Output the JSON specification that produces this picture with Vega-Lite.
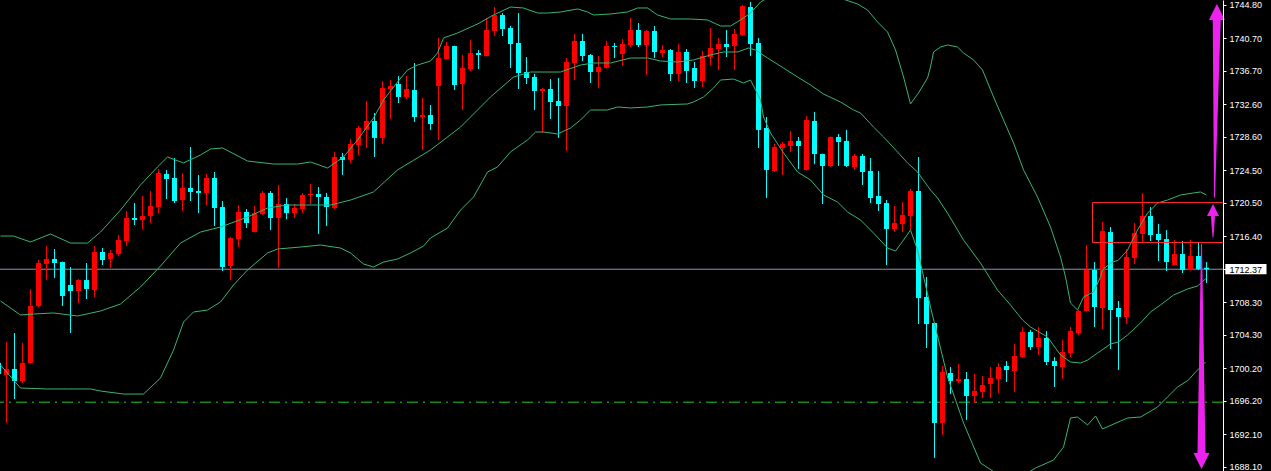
{
"$schema":"https://vega.github.io/schema/vega-lite/v6.json",
"width":1223,"height":471,"padding":{"left":0,"top":0,"bottom":0,"right":48},"autosize":{"type":"none"},
"background":"#000000",
"config":{"view":{"stroke":null},"axis":{"labelOverlap":false}},
"resolve":{"scale":{"size":"independent"},"axis":{"x":"independent","y":"independent"}},
"datasets":{
"candles":[
{"k":-1,"o":1700.86,"h":1701.47,"l":1699.02,"c":1699.51},
{"k":0,"o":1699.39,"h":1703.44,"l":1693.50,"c":1700.12},
{"k":1,"o":1700.12,"h":1704.54,"l":1696.44,"c":1698.65},
{"k":2,"o":1698.65,"h":1703.31,"l":1698.40,"c":1700.86},
{"k":3,"o":1700.86,"h":1709.94,"l":1700.80,"c":1707.85},
{"k":4,"o":1707.85,"h":1713.50,"l":1707.73,"c":1713.13},
{"k":5,"o":1713.01,"h":1715.21,"l":1711.04,"c":1713.62},
{"k":6,"o":1713.62,"h":1714.85,"l":1711.29,"c":1713.13},
{"k":7,"o":1713.25,"h":1713.30,"l":1707.85,"c":1709.08},
{"k":8,"o":1710.43,"h":1712.64,"l":1704.54,"c":1709.69},
{"k":9,"o":1709.69,"h":1711.16,"l":1708.22,"c":1711.04},
{"k":10,"o":1711.04,"h":1713.13,"l":1708.71,"c":1709.94},
{"k":11,"o":1709.81,"h":1715.21,"l":1708.96,"c":1714.48},
{"k":12,"o":1714.48,"h":1714.97,"l":1712.88,"c":1713.50},
{"k":13,"o":1713.62,"h":1714.72,"l":1712.51,"c":1714.36},
{"k":14,"o":1714.23,"h":1716.56,"l":1713.99,"c":1715.95},
{"k":15,"o":1715.83,"h":1719.51,"l":1715.21,"c":1718.65},
{"k":16,"o":1718.65,"h":1720.49,"l":1717.79,"c":1718.41},
{"k":17,"o":1718.41,"h":1721.36,"l":1717.30,"c":1718.90},
{"k":18,"o":1718.90,"h":1721.97,"l":1718.04,"c":1720.12},
{"k":19,"o":1720.00,"h":1724.67,"l":1719.26,"c":1724.18},
{"k":20,"o":1724.06,"h":1724.55,"l":1720.99,"c":1723.44},
{"k":21,"o":1723.57,"h":1726.02,"l":1720.49,"c":1720.74},
{"k":22,"o":1720.86,"h":1724.18,"l":1719.51,"c":1722.34},
{"k":23,"o":1722.34,"h":1727.37,"l":1720.74,"c":1721.85},
{"k":24,"o":1721.97,"h":1723.94,"l":1719.26,"c":1721.73},
{"k":25,"o":1721.73,"h":1724.06,"l":1720.25,"c":1723.57},
{"k":26,"o":1723.57,"h":1724.30,"l":1717.67,"c":1719.88},
{"k":27,"o":1720.00,"h":1720.74,"l":1712.15,"c":1712.64},
{"k":28,"o":1712.76,"h":1716.32,"l":1711.04,"c":1716.20},
{"k":29,"o":1716.07,"h":1720.25,"l":1715.09,"c":1719.39},
{"k":30,"o":1719.39,"h":1719.76,"l":1717.42,"c":1718.04},
{"k":31,"o":1716.93,"h":1720.12,"l":1716.90,"c":1719.26},
{"k":32,"o":1719.14,"h":1721.97,"l":1719.02,"c":1721.73},
{"k":33,"o":1721.73,"h":1721.97,"l":1717.18,"c":1718.65},
{"k":34,"o":1718.65,"h":1722.71,"l":1712.51,"c":1720.37},
{"k":35,"o":1720.37,"h":1721.11,"l":1718.50,"c":1719.26},
{"k":36,"o":1719.26,"h":1720.37,"l":1718.65,"c":1719.88},
{"k":37,"o":1719.76,"h":1721.73,"l":1719.26,"c":1721.48},
{"k":38,"o":1721.48,"h":1722.84,"l":1720.37,"c":1721.60},
{"k":39,"o":1721.60,"h":1722.46,"l":1716.69,"c":1721.23},
{"k":40,"o":1721.23,"h":1721.73,"l":1717.67,"c":1720.00},
{"k":41,"o":1719.88,"h":1726.76,"l":1719.76,"c":1726.14},
{"k":42,"o":1726.14,"h":1726.64,"l":1723.94,"c":1725.78},
{"k":43,"o":1725.78,"h":1728.35,"l":1725.41,"c":1727.74},
{"k":44,"o":1727.62,"h":1729.95,"l":1726.39,"c":1729.70},
{"k":45,"o":1729.46,"h":1733.02,"l":1727.25,"c":1730.56},
{"k":46,"o":1730.56,"h":1731.54,"l":1726.14,"c":1728.48},
{"k":47,"o":1728.48,"h":1735.47,"l":1727.74,"c":1734.61},
{"k":48,"o":1734.49,"h":1735.59,"l":1730.81,"c":1734.86},
{"k":49,"o":1735.10,"h":1736.08,"l":1732.77,"c":1733.51},
{"k":50,"o":1733.51,"h":1736.08,"l":1733.26,"c":1734.49},
{"k":51,"o":1734.36,"h":1737.68,"l":1730.44,"c":1731.05},
{"k":52,"o":1731.05,"h":1733.38,"l":1727.00,"c":1731.30},
{"k":53,"o":1731.30,"h":1732.53,"l":1729.46,"c":1730.19},
{"k":54,"o":1734.86,"h":1740.75,"l":1728.23,"c":1738.29},
{"k":55,"o":1738.17,"h":1740.26,"l":1738.10,"c":1739.76},
{"k":56,"o":1739.76,"h":1739.80,"l":1734.36,"c":1734.98},
{"k":57,"o":1735.10,"h":1738.66,"l":1731.91,"c":1737.06},
{"k":58,"o":1736.94,"h":1740.50,"l":1736.70,"c":1738.91},
{"k":59,"o":1738.91,"h":1739.27,"l":1736.94,"c":1738.66},
{"k":60,"o":1738.54,"h":1743.20,"l":1738.50,"c":1741.73},
{"k":61,"o":1741.61,"h":1744.55,"l":1740.99,"c":1743.57},
{"k":62,"o":1743.57,"h":1743.81,"l":1740.99,"c":1741.85},
{"k":63,"o":1741.97,"h":1742.22,"l":1737.06,"c":1740.01},
{"k":64,"o":1740.13,"h":1743.81,"l":1734.49,"c":1736.45},
{"k":65,"o":1736.57,"h":1738.41,"l":1735.10,"c":1735.84},
{"k":66,"o":1735.96,"h":1736.33,"l":1731.91,"c":1734.24},
{"k":67,"o":1734.24,"h":1734.61,"l":1729.09,"c":1734.49},
{"k":68,"o":1734.49,"h":1735.71,"l":1730.81,"c":1732.89},
{"k":69,"o":1733.02,"h":1735.84,"l":1728.48,"c":1732.40},
{"k":70,"o":1732.40,"h":1738.29,"l":1726.88,"c":1737.80},
{"k":71,"o":1737.68,"h":1741.24,"l":1735.59,"c":1740.38},
{"k":72,"o":1740.38,"h":1741.24,"l":1737.92,"c":1738.54},
{"k":73,"o":1738.66,"h":1738.78,"l":1735.22,"c":1736.57},
{"k":74,"o":1736.57,"h":1738.54,"l":1734.61,"c":1737.19},
{"k":75,"o":1737.06,"h":1740.38,"l":1737.00,"c":1739.76},
{"k":76,"o":1739.76,"h":1740.13,"l":1738.29,"c":1739.64},
{"k":77,"o":1738.78,"h":1740.62,"l":1737.31,"c":1740.01},
{"k":78,"o":1739.89,"h":1743.20,"l":1739.64,"c":1741.73},
{"k":79,"o":1741.73,"h":1742.59,"l":1739.64,"c":1739.89},
{"k":80,"o":1739.89,"h":1741.73,"l":1736.21,"c":1741.61},
{"k":81,"o":1741.61,"h":1742.22,"l":1738.29,"c":1739.03},
{"k":82,"o":1738.91,"h":1739.89,"l":1738.41,"c":1739.27},
{"k":83,"o":1739.27,"h":1739.40,"l":1735.47,"c":1736.33},
{"k":84,"o":1736.33,"h":1740.01,"l":1735.47,"c":1739.03},
{"k":85,"o":1739.03,"h":1739.40,"l":1735.22,"c":1736.70},
{"k":86,"o":1737.06,"h":1737.80,"l":1734.61,"c":1735.47},
{"k":87,"o":1735.47,"h":1739.15,"l":1734.73,"c":1738.54},
{"k":88,"o":1738.41,"h":1741.97,"l":1737.43,"c":1739.52},
{"k":89,"o":1739.40,"h":1740.75,"l":1736.82,"c":1740.01},
{"k":90,"o":1740.01,"h":1741.73,"l":1738.41,"c":1739.64},
{"k":91,"o":1739.76,"h":1741.85,"l":1736.82,"c":1741.24},
{"k":92,"o":1741.11,"h":1744.80,"l":1740.99,"c":1744.67},
{"k":93,"o":1744.55,"h":1745.16,"l":1738.54,"c":1740.01},
{"k":94,"o":1740.13,"h":1740.75,"l":1727.25,"c":1729.46},
{"k":95,"o":1729.70,"h":1731.05,"l":1721.11,"c":1724.55},
{"k":96,"o":1724.43,"h":1727.74,"l":1724.30,"c":1727.37},
{"k":97,"o":1727.25,"h":1727.98,"l":1723.94,"c":1727.74},
{"k":98,"o":1727.49,"h":1729.34,"l":1726.76,"c":1728.11},
{"k":99,"o":1728.11,"h":1728.60,"l":1724.67,"c":1727.49},
{"k":100,"o":1724.55,"h":1731.17,"l":1724.50,"c":1730.68},
{"k":101,"o":1730.56,"h":1731.66,"l":1725.26,"c":1726.51},
{"k":102,"o":1726.51,"h":1726.55,"l":1720.37,"c":1725.04},
{"k":103,"o":1725.04,"h":1728.65,"l":1724.92,"c":1728.60},
{"k":104,"o":1728.60,"h":1728.97,"l":1725.04,"c":1727.98},
{"k":105,"o":1728.11,"h":1729.46,"l":1724.92,"c":1725.04},
{"k":106,"o":1724.92,"h":1726.51,"l":1724.55,"c":1726.27},
{"k":107,"o":1726.27,"h":1726.51,"l":1722.71,"c":1724.30},
{"k":108,"o":1724.43,"h":1726.02,"l":1720.49,"c":1721.11},
{"k":109,"o":1721.36,"h":1724.43,"l":1719.51,"c":1720.37},
{"k":110,"o":1720.49,"h":1720.86,"l":1712.88,"c":1717.30},
{"k":111,"o":1717.30,"h":1720.12,"l":1716.93,"c":1718.04},
{"k":112,"o":1717.91,"h":1720.61,"l":1716.93,"c":1719.02},
{"k":113,"o":1718.90,"h":1722.22,"l":1717.18,"c":1721.97},
{"k":114,"o":1721.97,"h":1726.14,"l":1705.64,"c":1708.83},
{"k":115,"o":1708.96,"h":1711.41,"l":1702.70,"c":1705.64},
{"k":116,"o":1705.77,"h":1705.80,"l":1689.20,"c":1693.50},
{"k":117,"o":1693.50,"h":1700.49,"l":1692.02,"c":1699.75},
{"k":118,"o":1699.63,"h":1700.37,"l":1697.05,"c":1698.65},
{"k":119,"o":1698.65,"h":1700.74,"l":1698.40,"c":1698.90},
{"k":120,"o":1698.90,"h":1699.75,"l":1693.87,"c":1696.81},
{"k":121,"o":1696.81,"h":1699.51,"l":1695.95,"c":1697.42},
{"k":122,"o":1697.30,"h":1699.26,"l":1696.56,"c":1698.16},
{"k":123,"o":1698.28,"h":1700.37,"l":1696.56,"c":1699.02},
{"k":124,"o":1698.90,"h":1700.86,"l":1697.18,"c":1700.37},
{"k":125,"o":1700.49,"h":1701.10,"l":1698.53,"c":1700.00},
{"k":126,"o":1699.88,"h":1703.19,"l":1697.30,"c":1701.72},
{"k":127,"o":1701.59,"h":1705.28,"l":1701.47,"c":1704.66},
{"k":128,"o":1704.66,"h":1704.91,"l":1702.45,"c":1702.82},
{"k":129,"o":1702.82,"h":1705.28,"l":1701.84,"c":1703.93},
{"k":130,"o":1703.93,"h":1704.79,"l":1700.61,"c":1700.98},
{"k":131,"o":1701.10,"h":1701.59,"l":1697.91,"c":1700.49},
{"k":132,"o":1700.37,"h":1703.68,"l":1698.90,"c":1702.21},
{"k":133,"o":1702.08,"h":1705.28,"l":1701.59,"c":1704.79},
{"k":134,"o":1704.54,"h":1707.36,"l":1704.30,"c":1707.24},
{"k":135,"o":1707.24,"h":1715.34,"l":1707.20,"c":1712.27},
{"k":136,"o":1712.27,"h":1713.25,"l":1705.28,"c":1707.73},
{"k":137,"o":1707.61,"h":1718.16,"l":1705.03,"c":1717.05},
{"k":138,"o":1716.93,"h":1717.55,"l":1702.58,"c":1707.36},
{"k":139,"o":1707.61,"h":1708.47,"l":1700.00,"c":1706.50},
{"k":140,"o":1706.50,"h":1714.85,"l":1705.64,"c":1713.87},
{"k":141,"o":1713.74,"h":1718.04,"l":1713.01,"c":1716.81},
{"k":142,"o":1716.69,"h":1721.73,"l":1715.71,"c":1718.90},
{"k":143,"o":1718.90,"h":1720.00,"l":1715.83,"c":1716.56},
{"k":144,"o":1716.69,"h":1717.91,"l":1713.38,"c":1715.95},
{"k":145,"o":1716.07,"h":1717.18,"l":1712.15,"c":1713.25},
{"k":146,"o":1712.88,"h":1715.95,"l":1712.85,"c":1714.23},
{"k":147,"o":1714.23,"h":1715.83,"l":1711.90,"c":1712.27},
{"k":148,"o":1712.27,"h":1715.95,"l":1712.20,"c":1713.99},
{"k":149,"o":1713.99,"h":1715.58,"l":1712.27,"c":1712.39},
{"k":150,"o":1712.55,"h":1713.25,"l":1710.68,"c":1712.37}
],
"bands":[
{"band":"upper","k":-0.75,"p":1716.44},{"band":"upper","k":0.88,"p":1716.44},{"band":"upper","k":3.0,"p":1715.71},{"band":"upper","k":5.5,"p":1716.69},{"band":"upper","k":8.0,"p":1715.58},{"band":"upper","k":10.13,"p":1715.58},{"band":"upper","k":11.75,"p":1716.93},{"band":"upper","k":14.25,"p":1719.63},{"band":"upper","k":16.75,"p":1722.71},{"band":"upper","k":18.88,"p":1724.92},{"band":"upper","k":20.13,"p":1726.14},{"band":"upper","k":22.13,"p":1725.41},{"band":"upper","k":24.25,"p":1726.39},{"band":"upper","k":25.5,"p":1727.12},{"band":"upper","k":27.0,"p":1727.25},{"band":"upper","k":30.13,"p":1725.65},{"band":"upper","k":33.38,"p":1725.28},{"band":"upper","k":36.38,"p":1725.28},{"band":"upper","k":38.0,"p":1725.53},{"band":"upper","k":40.13,"p":1724.79},{"band":"upper","k":42.13,"p":1726.14},{"band":"upper","k":43.88,"p":1728.23},{"band":"upper","k":45.88,"p":1730.93},{"band":"upper","k":47.13,"p":1733.14},{"band":"upper","k":48.88,"p":1735.35},{"band":"upper","k":50.13,"p":1736.82},{"band":"upper","k":51.38,"p":1737.43},{"band":"upper","k":53.0,"p":1737.92},{"band":"upper","k":53.88,"p":1738.91},{"band":"upper","k":54.63,"p":1740.75},{"band":"upper","k":56.38,"p":1741.36},{"band":"upper","k":58.88,"p":1742.46},{"band":"upper","k":60.88,"p":1743.57},{"band":"upper","k":63.0,"p":1744.55},{"band":"upper","k":64.63,"p":1744.43},{"band":"upper","k":66.38,"p":1743.81},{"band":"upper","k":67.63,"p":1743.81},{"band":"upper","k":69.25,"p":1743.94},{"band":"upper","k":71.38,"p":1744.31},{"band":"upper","k":72.63,"p":1743.94},{"band":"upper","k":73.38,"p":1743.57},{"band":"upper","k":75.5,"p":1743.69},{"band":"upper","k":77.63,"p":1743.94},{"band":"upper","k":78.88,"p":1744.43},{"band":"upper","k":80.13,"p":1744.43},{"band":"upper","k":81.38,"p":1743.57},{"band":"upper","k":83.0,"p":1743.08},{"band":"upper","k":85.5,"p":1743.08},{"band":"upper","k":87.63,"p":1742.96},{"band":"upper","k":89.25,"p":1742.22},{"band":"upper","k":90.5,"p":1742.22},{"band":"upper","k":91.75,"p":1742.96},{"band":"upper","k":93.0,"p":1743.81},{"band":"upper","k":94.25,"p":1745.16},{"band":"upper","k":96.75,"p":1746.64},{"band":"upper","k":99.25,"p":1747.25},{"band":"upper","k":102.38,"p":1746.39},{"band":"upper","k":104.88,"p":1745.41},{"band":"upper","k":106.38,"p":1744.92},{"band":"upper","k":107.63,"p":1744.18},{"band":"upper","k":108.88,"p":1742.71},{"band":"upper","k":110.13,"p":1741.48},{"band":"upper","k":111.13,"p":1739.27},{"band":"upper","k":112.13,"p":1735.96},{"band":"upper","k":113.0,"p":1732.65},{"band":"upper","k":114.0,"p":1734.0},{"band":"upper","k":115.13,"p":1735.84},{"band":"upper","k":115.5,"p":1737.19},{"band":"upper","k":115.88,"p":1739.03},{"band":"upper","k":116.75,"p":1739.64},{"band":"upper","k":117.63,"p":1739.89},{"band":"upper","k":118.88,"p":1739.64},{"band":"upper","k":119.63,"p":1738.91},{"band":"upper","k":120.88,"p":1738.05},{"band":"upper","k":122.0,"p":1736.82},{"band":"upper","k":123.38,"p":1733.51},{"band":"upper","k":124.63,"p":1730.68},{"band":"upper","k":125.88,"p":1727.86},{"band":"upper","k":127.13,"p":1724.55},{"band":"upper","k":128.88,"p":1721.23},{"band":"upper","k":130.5,"p":1717.55},{"band":"upper","k":131.75,"p":1713.87},{"band":"upper","k":132.38,"p":1711.41},{"band":"upper","k":133.0,"p":1708.22},{"band":"upper","k":133.88,"p":1707.36},{"band":"upper","k":134.63,"p":1708.96},{"band":"upper","k":135.88,"p":1709.57},{"band":"upper","k":136.75,"p":1711.41},{"band":"upper","k":137.0,"p":1712.27},{"band":"upper","k":138.0,"p":1713.13},{"band":"upper","k":139.0,"p":1713.50},{"band":"upper","k":140.13,"p":1714.72},{"band":"upper","k":141.38,"p":1717.18},{"band":"upper","k":142.63,"p":1719.26},{"band":"upper","k":143.88,"p":1720.49},{"band":"upper","k":145.13,"p":1720.86},{"band":"upper","k":146.75,"p":1721.48},{"band":"upper","k":148.38,"p":1721.73},{"band":"upper","k":149.25,"p":1721.85},{"band":"upper","k":150.0,"p":1721.48},
{"band":"middle","k":-0.75,"p":1708.47},{"band":"middle","k":1.75,"p":1706.75},{"band":"middle","k":3.38,"p":1706.87},{"band":"middle","k":5.88,"p":1707.0},{"band":"middle","k":8.88,"p":1706.63},{"band":"middle","k":11.75,"p":1707.24},{"band":"middle","k":14.25,"p":1708.10},{"band":"middle","k":16.75,"p":1710.19},{"band":"middle","k":19.25,"p":1712.76},{"band":"middle","k":21.75,"p":1715.58},{"band":"middle","k":24.25,"p":1716.93},{"band":"middle","k":26.75,"p":1717.55},{"band":"middle","k":30.13,"p":1718.77},{"band":"middle","k":32.63,"p":1719.88},{"band":"middle","k":35.13,"p":1720.25},{"band":"middle","k":37.63,"p":1720.25},{"band":"middle","k":40.5,"p":1720.25},{"band":"middle","k":43.0,"p":1720.86},{"band":"middle","k":45.88,"p":1721.85},{"band":"middle","k":48.88,"p":1724.55},{"band":"middle","k":53.0,"p":1727.0},{"band":"middle","k":56.75,"p":1729.82},{"band":"middle","k":60.5,"p":1733.51},{"band":"middle","k":63.38,"p":1735.96},{"band":"middle","k":65.5,"p":1736.57},{"band":"middle","k":69.25,"p":1736.57},{"band":"middle","k":71.75,"p":1737.43},{"band":"middle","k":73.38,"p":1737.68},{"band":"middle","k":75.5,"p":1737.68},{"band":"middle","k":78.0,"p":1738.29},{"band":"middle","k":80.13,"p":1738.29},{"band":"middle","k":81.75,"p":1737.92},{"band":"middle","k":83.88,"p":1737.80},{"band":"middle","k":85.88,"p":1738.05},{"band":"middle","k":88.0,"p":1738.66},{"band":"middle","k":89.63,"p":1739.03},{"band":"middle","k":91.38,"p":1739.03},{"band":"middle","k":92.75,"p":1739.52},{"band":"middle","k":93.63,"p":1739.27},{"band":"middle","k":95.13,"p":1738.29},{"band":"middle","k":97.13,"p":1737.06},{"band":"middle","k":98.88,"p":1735.96},{"band":"middle","k":100.5,"p":1734.98},{"band":"middle","k":102.13,"p":1733.87},{"band":"middle","k":104.25,"p":1732.89},{"band":"middle","k":105.88,"p":1731.91},{"band":"middle","k":106.75,"p":1731.54},{"band":"middle","k":108.38,"p":1729.82},{"band":"middle","k":109.63,"p":1728.60},{"band":"middle","k":111.38,"p":1726.76},{"band":"middle","k":112.63,"p":1725.41},{"band":"middle","k":113.88,"p":1724.30},{"band":"middle","k":115.5,"p":1722.09},{"band":"middle","k":116.38,"p":1721.11},{"band":"middle","k":117.63,"p":1719.26},{"band":"middle","k":119.63,"p":1715.95},{"band":"middle","k":121.75,"p":1713.13},{"band":"middle","k":123.88,"p":1709.81},{"band":"middle","k":125.5,"p":1707.98},{"band":"middle","k":127.0,"p":1706.14},{"band":"middle","k":128.0,"p":1705.28},{"band":"middle","k":130.13,"p":1704.05},{"band":"middle","k":131.75,"p":1701.84},{"band":"middle","k":133.0,"p":1700.98},{"band":"middle","k":134.25,"p":1700.86},{"band":"middle","k":135.13,"p":1701.22},{"band":"middle","k":136.38,"p":1702.08},{"band":"middle","k":138.0,"p":1703.19},{"band":"middle","k":139.0,"p":1703.44},{"band":"middle","k":140.13,"p":1704.30},{"band":"middle","k":141.75,"p":1705.77},{"band":"middle","k":143.0,"p":1707.12},{"band":"middle","k":144.25,"p":1707.98},{"band":"middle","k":145.88,"p":1709.20},{"band":"middle","k":147.63,"p":1709.94},{"band":"middle","k":148.88,"p":1710.31},{"band":"middle","k":150.0,"p":1711.29},
{"band":"lower","k":-0.75,"p":1700.61},{"band":"lower","k":0.88,"p":1698.77},{"band":"lower","k":1.75,"p":1697.79},{"band":"lower","k":5.13,"p":1697.67},{"band":"lower","k":7.63,"p":1697.67},{"band":"lower","k":10.5,"p":1697.67},{"band":"lower","k":11.75,"p":1697.42},{"band":"lower","k":14.63,"p":1697.05},{"band":"lower","k":17.13,"p":1697.05},{"band":"lower","k":19.25,"p":1699.02},{"band":"lower","k":20.88,"p":1702.45},{"band":"lower","k":22.13,"p":1705.89},{"band":"lower","k":23.38,"p":1707.12},{"band":"lower","k":25.13,"p":1707.36},{"band":"lower","k":26.75,"p":1708.35},{"band":"lower","k":28.38,"p":1710.43},{"band":"lower","k":30.13,"p":1712.27},{"band":"lower","k":32.63,"p":1714.36},{"band":"lower","k":33.88,"p":1714.85},{"band":"lower","k":36.75,"p":1715.09},{"band":"lower","k":39.25,"p":1715.34},{"band":"lower","k":41.75,"p":1714.97},{"band":"lower","k":43.0,"p":1714.36},{"band":"lower","k":44.63,"p":1713.01},{"band":"lower","k":45.88,"p":1712.64},{"band":"lower","k":47.13,"p":1713.25},{"band":"lower","k":48.88,"p":1713.62},{"band":"lower","k":50.5,"p":1714.36},{"band":"lower","k":52.13,"p":1715.21},{"band":"lower","k":53.0,"p":1716.20},{"band":"lower","k":55.13,"p":1717.42},{"band":"lower","k":56.75,"p":1719.63},{"band":"lower","k":58.38,"p":1721.23},{"band":"lower","k":60.13,"p":1724.30},{"band":"lower","k":61.38,"p":1724.92},{"band":"lower","k":63.0,"p":1726.76},{"band":"lower","k":65.13,"p":1728.23},{"band":"lower","k":66.13,"p":1729.21},{"band":"lower","k":67.13,"p":1729.21},{"band":"lower","k":68.88,"p":1728.97},{"band":"lower","k":70.5,"p":1729.70},{"band":"lower","k":71.75,"p":1730.68},{"band":"lower","k":73.0,"p":1731.91},{"band":"lower","k":75.13,"p":1731.91},{"band":"lower","k":76.38,"p":1732.28},{"band":"lower","k":78.0,"p":1732.16},{"band":"lower","k":80.13,"p":1732.28},{"band":"lower","k":81.75,"p":1732.53},{"band":"lower","k":85.13,"p":1732.65},{"band":"lower","k":85.88,"p":1732.89},{"band":"lower","k":87.13,"p":1733.51},{"band":"lower","k":88.38,"p":1734.61},{"band":"lower","k":89.25,"p":1735.59},{"band":"lower","k":90.88,"p":1735.71},{"band":"lower","k":92.13,"p":1735.22},{"band":"lower","k":93.0,"p":1735.59},{"band":"lower","k":93.63,"p":1734.36},{"band":"lower","k":94.25,"p":1733.14},{"band":"lower","k":94.63,"p":1731.05},{"band":"lower","k":95.5,"p":1729.09},{"band":"lower","k":97.13,"p":1726.64},{"band":"lower","k":98.88,"p":1724.30},{"band":"lower","k":100.5,"p":1723.32},{"band":"lower","k":102.13,"p":1721.48},{"band":"lower","k":103.88,"p":1720.61},{"band":"lower","k":105.13,"p":1719.39},{"band":"lower","k":106.75,"p":1718.41},{"band":"lower","k":108.38,"p":1716.81},{"band":"lower","k":110.13,"p":1714.97},{"band":"lower","k":111.13,"p":1714.60},{"band":"lower","k":112.13,"p":1715.95},{"band":"lower","k":113.0,"p":1717.18},{"band":"lower","k":113.88,"p":1714.72},{"band":"lower","k":115.5,"p":1707.73},{"band":"lower","k":117.63,"p":1699.14},{"band":"lower","k":119.63,"p":1693.50},{"band":"lower","k":121.75,"p":1688.58},{"band":"lower","k":124.25,"p":1686.99},{"band":"lower","k":126.75,"p":1686.87},{"band":"lower","k":128.63,"p":1687.97},{"band":"lower","k":130.88,"p":1688.95},{"band":"lower","k":132.13,"p":1690.55},{"band":"lower","k":133.0,"p":1694.11},{"band":"lower","k":133.88,"p":1694.23},{"band":"lower","k":135.13,"p":1693.25},{"band":"lower","k":136.13,"p":1694.36},{"band":"lower","k":137.0,"p":1692.76},{"band":"lower","k":139.25,"p":1693.74},{"band":"lower","k":140.13,"p":1694.11},{"band":"lower","k":141.75,"p":1694.23},{"band":"lower","k":142.63,"p":1694.72},{"band":"lower","k":143.88,"p":1695.46},{"band":"lower","k":145.13,"p":1696.69},{"band":"lower","k":146.38,"p":1697.91},{"band":"lower","k":147.75,"p":1698.77},{"band":"lower","k":148.63,"p":1699.75},{"band":"lower","k":149.88,"p":1700.98}
],
"arrowShafts":[
{"arrow":"up-big","part":"tail","k":151.0,"p":1721.23},{"arrow":"up-big","part":"neck","k":151.28,"p":1742.96},
{"arrow":"up-small","part":"tail","k":150.81,"p":1716.32},{"arrow":"up-small","part":"neck-small","k":150.81,"p":1718.77},
{"arrow":"down","part":"tail","k":149.375,"p":1715.46},{"arrow":"down","part":"neck","k":149.375,"p":1689.81}
],
"arrowHeads":[
{"arrow":"up-big","dir":"up","k":151.3,"p":1743.94},
{"arrow":"up-small","dir":"up","k":150.81,"p":1719.63},
{"arrow":"down","dir":"down","k":149.375,"p":1688.83}
]
},
"layer":[
{"data":{"values":[{"level":"support","p":1696.05}]},
 "mark":{"type":"rule","color":"#22cc22","strokeWidth":1,"strokeDash":[11,5,2,5]},
 "encoding":{"y":{"field":"p","type":"quantitative","scale":{"domain":[1687.604,1745.41],"nice":false,"zero":false},
   "axis":{"orient":"right","title":null,"grid":false,"values":[1744.8,1740.7,1736.7,1732.6,1728.6,1724.5,1720.5,1716.4,1712.37,1708.3,1704.3,1700.2,1696.2,1692.1,1688.1],
   "format":".2f","domainColor":"#ffffff","domainWidth":1,"tickColor":"#ffffff","tickSize":3,"tickWidth":1,
   "labelColor":{"condition":{"test":"abs(datum.value - 1712.37) < 0.001","value":"#000000"},"value":"#ffffff"},
   "labelFont":"Liberation Sans","labelFontSize":9,"labelPadding":3,"labelOverlap":false,"labelFlush":false,"zindex":1}}}},
{"data":{"values":[{"level":"bid","p":1712.37}]},
 "mark":{"type":"rule","color":"#8a96aa","strokeWidth":1},
 "encoding":{"y":{"field":"p","type":"quantitative","axis":null}}},
{"data":{"name":"candles"},
 "mark":{"type":"rule","strokeWidth":1,"clip":true},
 "encoding":{
  "x":{"field":"k","type":"quantitative","scale":{"domain":[-0.8125,152.0625],"nice":false,"zero":false},"axis":null},
  "y":{"field":"l","type":"quantitative","axis":null},"y2":{"field":"h"},
  "color":{"condition":{"test":"datum.c > datum.o","value":"#ff0000"},"value":"#00ffff"}}},
{"data":{"name":"candles"},
 "mark":{"type":"rule","strokeWidth":5,"strokeCap":"butt","clip":true},
 "encoding":{
  "x":{"field":"k","type":"quantitative","axis":null},
  "y":{"field":"o","type":"quantitative","axis":null},"y2":{"field":"c"},
  "color":{"condition":{"test":"datum.c > datum.o","value":"#ff0000"},"value":"#00ffff"}}},
{"data":{"name":"bands"},
 "mark":{"type":"line","color":"#3cb371","strokeWidth":1,"clip":true},
 "encoding":{"x":{"field":"k","type":"quantitative","axis":null},"y":{"field":"p","type":"quantitative","axis":null},"detail":{"field":"band"}}},
{"data":{"values":[{"object":"range","k1":135.75,"k2":153,"p1":1720.55,"p2":1715.65}]},
 "mark":{"type":"rect","filled":false,"stroke":"#ff2a2a","strokeWidth":1,"fill":null,"clip":true},
 "encoding":{"x":{"field":"k1","type":"quantitative","axis":null},"x2":{"field":"k2"},"y":{"field":"p1","type":"quantitative","axis":null},"y2":{"field":"p2"}}},
{"data":{"name":"arrowShafts"},
 "mark":{"type":"trail","color":"#ee22ee","clip":false},
 "encoding":{"x":{"field":"k","type":"quantitative","axis":null},"y":{"field":"p","type":"quantitative","axis":null},
  "detail":{"field":"arrow"},"order":{"field":"p"},
  "size":{"field":"part","type":"ordinal","scale":{"type":"ordinal","domain":["tail","neck-small","neck"],"range":[1,4,8]},"legend":null}}},
{"data":{"name":"arrowHeads"},
 "mark":{"type":"point","filled":true,"color":"#ee22ee","opacity":1,"strokeWidth":0,"clip":false},
 "encoding":{"x":{"field":"k","type":"quantitative","axis":null},"y":{"field":"p","type":"quantitative","axis":null},
  "shape":{"field":"dir","type":"nominal","scale":{"domain":["up","down"],"range":["M0,-1L1,1L-1,1Z","M0,1L1,-1L-1,-1Z"]},"legend":null},
  "size":{"field":"arrow","type":"nominal","scale":{"type":"ordinal","domain":["up-big","up-small","down"],"range":[256,144,256]},"legend":null}}},
{"data":{"values":[{"label":"bid"}]},
 "mark":{"type":"rect","color":"#ffffff","clip":false},
 "encoding":{"x":{"datum":152.35,"type":"quantitative","axis":null},"x2":{"datum":157.5},"y":{"datum":1713.0,"type":"quantitative","axis":null},"y2":{"datum":1711.75}}}
]
}
